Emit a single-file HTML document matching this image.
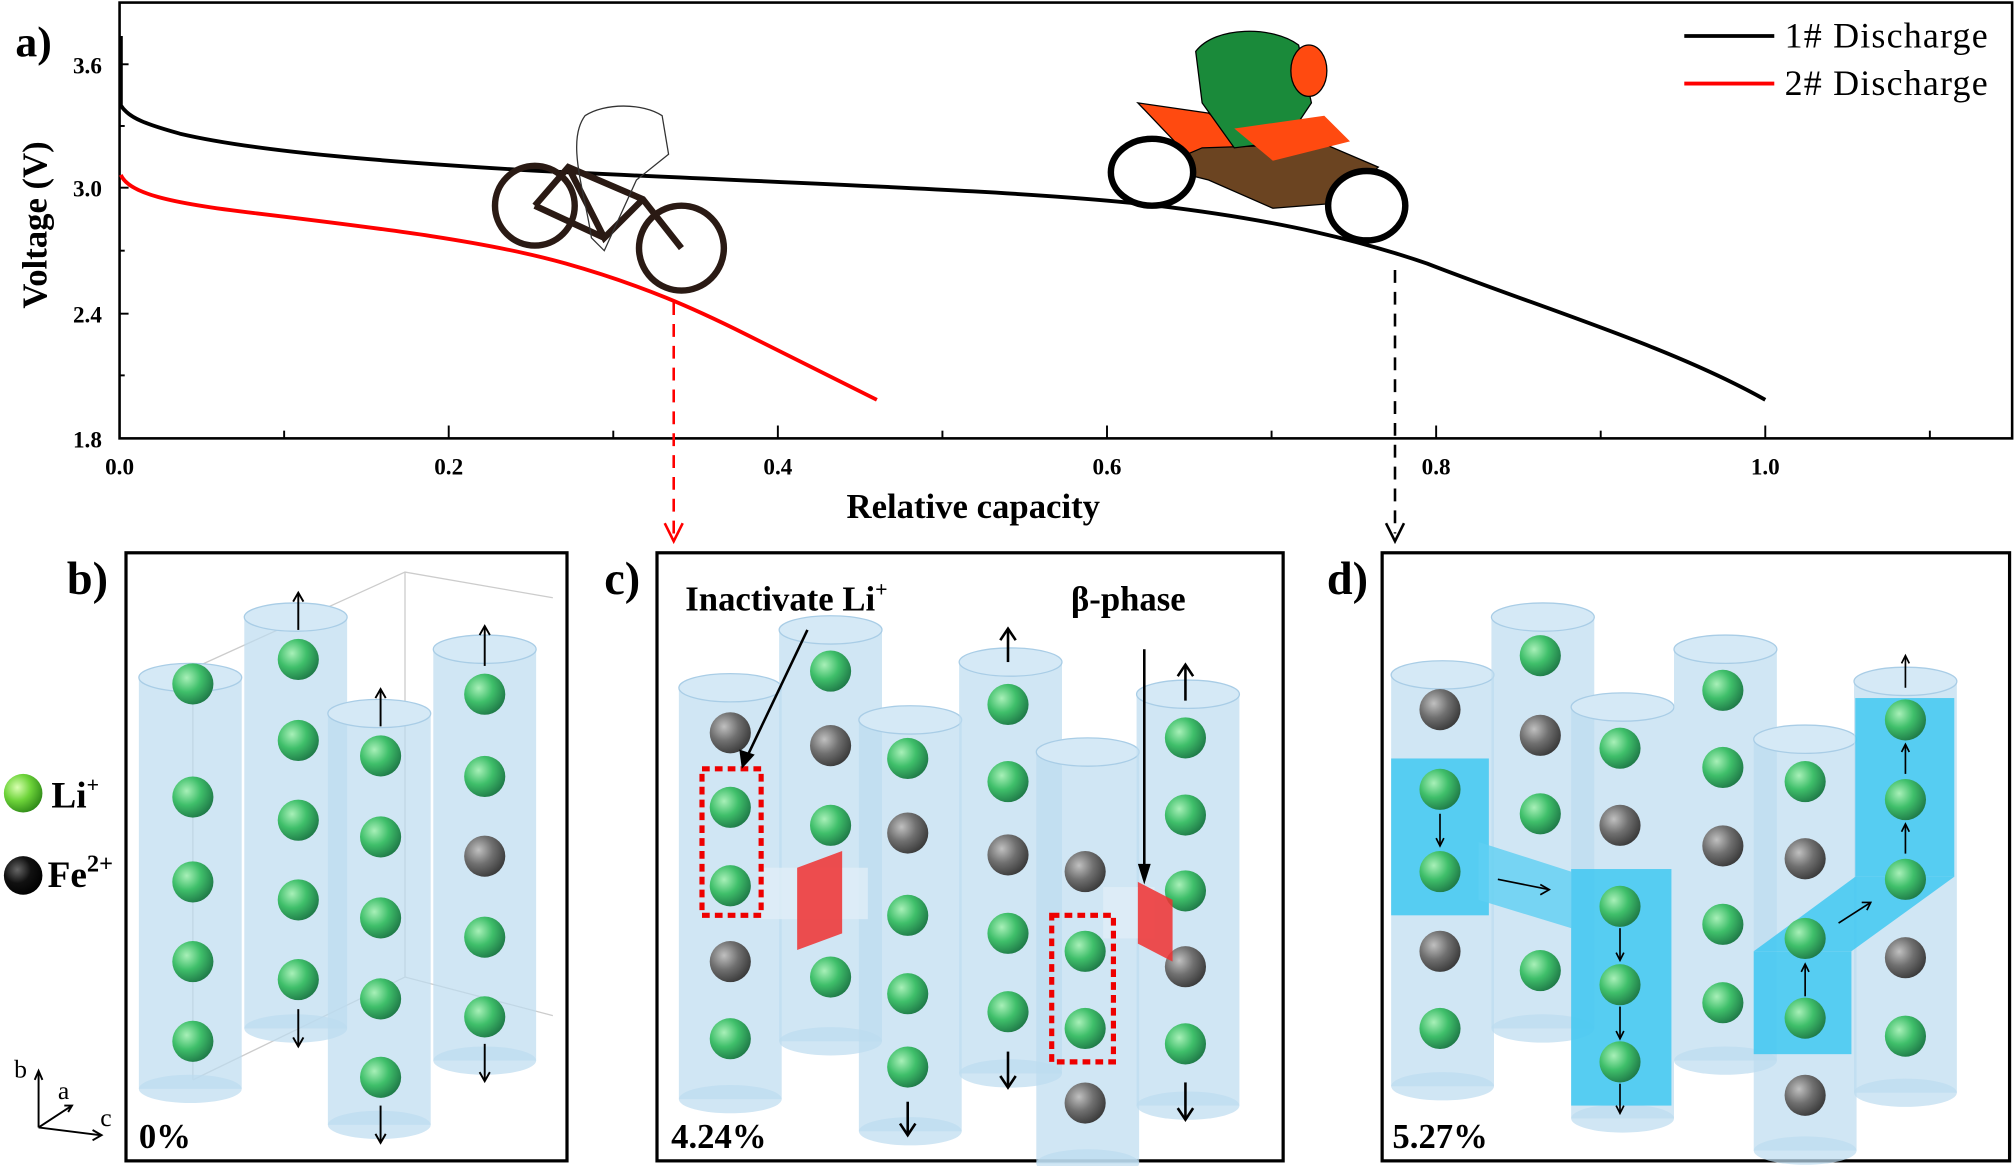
<!DOCTYPE html>
<html><head><meta charset="utf-8"><style>
html,body{margin:0;padding:0;background:#fff;}
svg{display:block}
text{font-family:"Liberation Serif",serif;font-weight:bold;}
</style></head><body>
<svg width="2016" height="1166" viewBox="0 0 1568 907" preserveAspectRatio="none" xmlns="http://www.w3.org/2000/svg">
<defs>
<radialGradient id="gG" cx="0.35" cy="0.35" r="0.7"><stop offset="0" stop-color="#a8f0b8"/><stop offset="0.5" stop-color="#3fbf6a"/><stop offset="1" stop-color="#1f7a48"/></radialGradient>
<radialGradient id="gL" cx="0.35" cy="0.35" r="0.7"><stop offset="0" stop-color="#d8ffb0"/><stop offset="0.5" stop-color="#6ed43a"/><stop offset="1" stop-color="#2f8a18"/></radialGradient>
<radialGradient id="gY" cx="0.35" cy="0.35" r="0.7"><stop offset="0" stop-color="#c0c0c0"/><stop offset="0.5" stop-color="#707070"/><stop offset="1" stop-color="#3a3a3a"/></radialGradient>
<radialGradient id="gK" cx="0.35" cy="0.35" r="0.7"><stop offset="0" stop-color="#666"/><stop offset="0.5" stop-color="#111"/><stop offset="1" stop-color="#000"/></radialGradient>
<g id="bg"><circle r="16" fill="url(#gG)"/></g>
<g id="by"><circle r="16" fill="url(#gY)"/></g>
<g id="cyl"><rect x="0" y="0" width="80" height="320" fill="#bcdcf0" fill-opacity="0.7"/><ellipse cx="40" cy="0" rx="40" ry="11" fill="#d5e9f6" stroke="#a9cde6"/><ellipse cx="40" cy="320" rx="40" ry="11" fill="#bcdcf0" fill-opacity="0.7"/></g>
</defs>

<!-- Panel a -->
<rect x="93" y="2" width="1472" height="339" fill="none" stroke="#000" stroke-width="2"/>
<g stroke="#000" stroke-width="1.5">
<line x1="93" y1="50" x2="100" y2="50"/><line x1="93" y1="98" x2="97" y2="98"/><line x1="93" y1="146" x2="100" y2="146"/><line x1="93" y1="195" x2="97" y2="195"/><line x1="93" y1="244" x2="100" y2="244"/><line x1="93" y1="292" x2="97" y2="292"/>
<line x1="221" y1="341" x2="221" y2="335"/><line x1="349" y1="341" x2="349" y2="331"/><line x1="477" y1="341" x2="477" y2="335"/><line x1="605" y1="341" x2="605" y2="331"/><line x1="733" y1="341" x2="733" y2="335"/><line x1="861" y1="341" x2="861" y2="331"/><line x1="989" y1="341" x2="989" y2="335"/><line x1="1117" y1="341" x2="1117" y2="331"/><line x1="1245" y1="341" x2="1245" y2="335"/><line x1="1373" y1="341" x2="1373" y2="331"/><line x1="1501" y1="341" x2="1501" y2="335"/>
</g>
<g font-size="18" text-anchor="middle" style="font-family:'Liberation Sans',sans-serif">
<text x="93" y="369">0.0</text><text x="349" y="369">0.2</text><text x="605" y="369">0.4</text><text x="861" y="369">0.6</text><text x="1117" y="369">0.8</text><text x="1373" y="369">1.0</text>
<text x="68" y="57">3.6</text><text x="68" y="153">3.0</text><text x="68" y="251">2.4</text><text x="68" y="348">1.8</text>
</g>
<text x="757" y="403" font-size="27" text-anchor="middle">Relative capacity</text>
<text x="0" y="0" font-size="27" text-anchor="middle" transform="translate(36,175) rotate(-90)">Voltage (V)</text>
<text x="12" y="44" font-size="34">a)</text>
<path d="M94,28 L94,82 C100,92 115,97 140,104 C200,118 300,126 420,133 C600,142 800,148 900,160 C1000,172 1060,188 1110,205 C1200,240 1300,270 1373,311" fill="none" stroke="#000" stroke-width="3"/>
<path d="M94,136 C100,150 130,158 200,166 C300,178 380,188 440,205 C500,222 540,240 580,260 C620,280 660,300 682,311" fill="none" stroke="#f00" stroke-width="3"/>
<line x1="1310" y1="28" x2="1380" y2="28" stroke="#000" stroke-width="3"/><text x="1388" y="37" font-size="28" style="font-weight:normal" textLength="158">1# Discharge</text>
<line x1="1310" y1="65" x2="1380" y2="65" stroke="#f00" stroke-width="3"/><text x="1388" y="74" font-size="28" style="font-weight:normal" textLength="158">2# Discharge</text>
<line x1="524" y1="235" x2="524" y2="415" stroke="#f00" stroke-width="2" stroke-dasharray="10,7"/>
<path d="M517,407 L524,421 L531,407" fill="none" stroke="#f00" stroke-width="2"/>
<line x1="1085" y1="210" x2="1085" y2="415" stroke="#000" stroke-width="2" stroke-dasharray="10,7"/>
<path d="M1078,407 L1085,421 L1092,407" fill="none" stroke="#000" stroke-width="2"/>
<!-- bicycle -->
<g fill="none" stroke="#2a1a14" stroke-width="5">
<circle cx="416" cy="160" r="31"/><circle cx="530" cy="193" r="33"/>
<path d="M416,160 L442,130 L500,155 L530,193 M442,130 L470,185 L500,155 M470,185 L416,160"/>
</g>
<path d="M460,185 C455,150 440,110 455,90 C470,80 500,80 515,90 L520,120 L495,140 L470,195 Z" fill="none" stroke="#333" stroke-width="1"/>
<!-- motorbike -->
<path d="M885,80 L940,88 L975,115 L925,122 Z" fill="#ff4a10" stroke="#000"/>
<path d="M900,130 L935,115 L1030,112 L1072,130 L1040,158 L990,162 L940,140 Z" fill="#6b4421" stroke="#000"/>
<path d="M930,40 C945,20 990,20 1010,35 L1020,80 L1000,110 L960,115 L935,80 Z" fill="#1a8a3a" stroke="#000"/>
<ellipse cx="1018" cy="55" rx="14" ry="20" fill="#ff4a10" stroke="#000"/>
<path d="M960,100 L1030,90 L1050,110 L990,125 Z" fill="#ff4a10"/>
<ellipse cx="896" cy="134" rx="32" ry="26" fill="#fff" stroke="#000" stroke-width="5"/>
<ellipse cx="1063" cy="160" rx="30" ry="27" fill="#fff" stroke="#000" stroke-width="5"/>

<!-- legend -->
<circle cx="18" cy="617" r="15" fill="url(#gL)"/><text x="40" y="628" font-size="29">Li<tspan font-size="17" dy="-12">+</tspan></text>
<circle cx="18" cy="681" r="15" fill="url(#gK)"/><text x="37" y="690" font-size="29">Fe<tspan font-size="19" dy="-12">2+</tspan></text>
<g stroke="#000" stroke-width="1.5" fill="none">
<line x1="30" y1="877" x2="30" y2="835"/><path d="M27,840 L30,833 L33,840"/>
<line x1="30" y1="877" x2="56" y2="860"/><path d="M50,860 L56,860 L53,865"/>
<line x1="30" y1="877" x2="78" y2="883"/><path d="M72,879 L79,883 L72,887"/>
</g>
<text x="11" y="838" font-size="20" style="font-weight:normal">b</text><text x="45" y="855" font-size="20" style="font-weight:normal">a</text><text x="78" y="876" font-size="20" style="font-weight:normal">c</text>

<!-- Panel boxes -->
<rect x="98" y="430" width="343" height="473" fill="none" stroke="#000" stroke-width="2.5"/>
<rect x="511" y="430" width="487" height="473" fill="none" stroke="#000" stroke-width="2.5"/>
<rect x="1075" y="430" width="488" height="473" fill="none" stroke="#000" stroke-width="2.5"/>
<text x="52" y="462" font-size="36">b)</text><text x="470" y="462" font-size="36">c)</text><text x="1032" y="462" font-size="36">d)</text>

<!-- Panel b -->
<g stroke="#ccc" stroke-width="1" fill="none"><path d="M150,520 L315,445 L430,465 M150,520 L150,840 M315,445 L315,760 M150,840 L315,760 L430,790"/></g>
<use href="#cyl" x="108" y="527"/><use href="#cyl" x="190" y="480"/><use href="#cyl" x="255" y="555"/><use href="#cyl" x="337" y="505"/>
<use href="#bg" x="150" y="532"/><use href="#bg" x="150" y="620"/><use href="#bg" x="150" y="686"/><use href="#bg" x="150" y="748"/><use href="#bg" x="150" y="810"/>
<use href="#bg" x="232" y="513"/><use href="#bg" x="232" y="576"/><use href="#bg" x="232" y="638"/><use href="#bg" x="232" y="700"/><use href="#bg" x="232" y="762"/>
<use href="#bg" x="296" y="588"/><use href="#bg" x="296" y="651"/><use href="#bg" x="296" y="714"/><use href="#bg" x="296" y="777"/><use href="#bg" x="296" y="838"/>
<use href="#bg" x="377" y="540"/><use href="#bg" x="377" y="604"/><use href="#by" x="377" y="666"/><use href="#bg" x="377" y="729"/><use href="#bg" x="377" y="791"/>
<g stroke="#000" stroke-width="1.5" fill="none">
<line x1="232" y1="490" x2="232" y2="462"/><path d="M228,468 L232,461 L236,468"/>
<line x1="232" y1="785" x2="232" y2="813"/><path d="M228,807 L232,814 L236,807"/>
<line x1="296" y1="565" x2="296" y2="537"/><path d="M292,543 L296,536 L300,543"/>
<line x1="296" y1="860" x2="296" y2="888"/><path d="M292,882 L296,889 L300,882"/>
<line x1="377" y1="518" x2="377" y2="488"/><path d="M373,494 L377,487 L381,494"/>
<line x1="377" y1="812" x2="377" y2="840"/><path d="M373,834 L377,841 L381,834"/>
</g>
<text x="108" y="893" font-size="27">0%</text>

<!-- Panel c -->
<use href="#cyl" x="528" y="535"/><use href="#cyl" x="606" y="490"/><use href="#cyl" x="668" y="560"/><use href="#cyl" x="746" y="515"/><use href="#cyl" x="806" y="585"/><use href="#cyl" x="884" y="540"/>
<use href="#by" x="568" y="570"/><use href="#bg" x="568" y="628"/><use href="#bg" x="568" y="689"/><use href="#by" x="568" y="748"/><use href="#bg" x="568" y="808"/>
<use href="#bg" x="646" y="522"/><use href="#by" x="646" y="580"/><use href="#bg" x="646" y="642"/><use href="#bg" x="646" y="760"/>
<use href="#bg" x="706" y="590"/><use href="#by" x="706" y="648"/><use href="#bg" x="706" y="712"/><use href="#bg" x="706" y="773"/><use href="#bg" x="706" y="830"/>
<use href="#bg" x="784" y="548"/><use href="#bg" x="784" y="608"/><use href="#by" x="784" y="665"/><use href="#bg" x="784" y="726"/><use href="#bg" x="784" y="787"/>
<use href="#bg" x="844" y="740"/><use href="#by" x="844" y="678"/><use href="#bg" x="844" y="800"/><use href="#by" x="844" y="858"/>
<use href="#bg" x="922" y="574"/><use href="#bg" x="922" y="634"/><use href="#bg" x="922" y="693"/><use href="#by" x="922" y="752"/><use href="#bg" x="922" y="812"/>
<rect x="590" y="675" width="85" height="40" fill="#e0edf7" fill-opacity="0.8"/>
<path d="M620,675 L655,662 L655,726 L620,739 Z" fill="#f03030" fill-opacity="0.85"/>
<rect x="858" y="690" width="40" height="40" fill="#e0edf7" fill-opacity="0.8"/>
<path d="M885,686 L912,700 L912,748 L885,734 Z" fill="#f03030" fill-opacity="0.85"/>
<rect x="546" y="598" width="46" height="114" fill="none" stroke="#e00" stroke-width="4" stroke-dasharray="6,4"/>
<rect x="818" y="712" width="48" height="114" fill="none" stroke="#e00" stroke-width="4" stroke-dasharray="6,4"/>
<line x1="628" y1="490" x2="578" y2="595" stroke="#000" stroke-width="2"/><path d="M575,583 L577,598 L587,587 Z" fill="#000"/>
<line x1="890" y1="505" x2="890" y2="683" stroke="#000" stroke-width="2"/><path d="M885,672 L890,688 L895,672 Z" fill="#000"/>
<g stroke="#000" stroke-width="2" fill="none">
<line x1="784" y1="515" x2="784" y2="490"/><path d="M778,498 L784,489 L790,498"/>
<line x1="784" y1="818" x2="784" y2="845"/><path d="M778,837 L784,846 L790,837"/>
<line x1="922" y1="545" x2="922" y2="518"/><path d="M916,526 L922,517 L928,526"/>
<line x1="922" y1="842" x2="922" y2="870"/><path d="M916,862 L922,871 L928,862"/>
<line x1="706" y1="857" x2="706" y2="882"/><path d="M700,874 L706,883 L712,874"/>
</g>
<text x="533" y="475" font-size="27">Inactivate  Li<tspan font-size="17" dy="-11">+</tspan></text>
<text x="833" y="475" font-size="27">β-phase</text>
<text x="522" y="893" font-size="27">4.24%</text>

<!-- Panel d -->
<use href="#cyl" x="1082" y="525"/><use href="#cyl" x="1160" y="480"/><use href="#cyl" x="1222" y="550"/><use href="#cyl" x="1302" y="505"/><use href="#cyl" x="1364" y="575"/><use href="#cyl" x="1442" y="530"/>
<rect x="1082" y="590" width="76" height="122" fill="#2ec4f2" fill-opacity="0.75"/>
<path d="M1150,655 L1222,678 L1222,722 L1150,700 Z" fill="#5fd0f2" fill-opacity="0.8"/>
<rect x="1222" y="676" width="78" height="184" fill="#2ec4f2" fill-opacity="0.75"/>
<rect x="1364" y="740" width="76" height="80" fill="#2ec4f2" fill-opacity="0.75"/>
<path d="M1364,740 L1443,682 L1520,682 L1440,740 Z" fill="#2ec4f2" fill-opacity="0.75"/>
<rect x="1443" y="543" width="77" height="139" fill="#2ec4f2" fill-opacity="0.75"/>
<use href="#by" x="1120" y="552"/><use href="#bg" x="1120" y="614"/><use href="#bg" x="1120" y="678"/><use href="#by" x="1120" y="740"/><use href="#bg" x="1120" y="800"/>
<use href="#bg" x="1198" y="510"/><use href="#by" x="1198" y="572"/><use href="#bg" x="1198" y="633"/><use href="#bg" x="1198" y="755"/>
<use href="#bg" x="1260" y="582"/><use href="#by" x="1260" y="642"/><use href="#bg" x="1260" y="705"/><use href="#bg" x="1260" y="766"/><use href="#bg" x="1260" y="826"/>
<use href="#bg" x="1340" y="537"/><use href="#bg" x="1340" y="597"/><use href="#by" x="1340" y="658"/><use href="#bg" x="1340" y="719"/><use href="#bg" x="1340" y="780"/>
<use href="#bg" x="1404" y="608"/><use href="#by" x="1404" y="668"/><use href="#bg" x="1404" y="730"/><use href="#bg" x="1404" y="792"/><use href="#by" x="1404" y="852"/>
<use href="#bg" x="1482" y="560"/><use href="#bg" x="1482" y="622"/><use href="#bg" x="1482" y="684"/><use href="#by" x="1482" y="745"/><use href="#bg" x="1482" y="806"/>
<g stroke="#000" stroke-width="1.3" fill="none">
<line x1="1120" y1="633" x2="1120" y2="658"/><path d="M1117,652 L1120,658 L1123,652"/>
<line x1="1165" y1="684" x2="1205" y2="692"/><path d="M1198,688 L1205,692 L1198,696"/>
<line x1="1260" y1="722" x2="1260" y2="747"/><path d="M1257,741 L1260,747 L1263,741"/>
<line x1="1260" y1="783" x2="1260" y2="808"/><path d="M1257,802 L1260,808 L1263,802"/>
<line x1="1260" y1="843" x2="1260" y2="866"/><path d="M1257,860 L1260,866 L1263,860"/>
<line x1="1404" y1="775" x2="1404" y2="750"/><path d="M1401,756 L1404,750 L1407,756"/>
<line x1="1430" y1="718" x2="1455" y2="702"/><path d="M1448,702 L1455,702 L1452,708"/>
<line x1="1482" y1="664" x2="1482" y2="641"/><path d="M1479,647 L1482,641 L1485,647"/>
<line x1="1482" y1="602" x2="1482" y2="579"/><path d="M1479,585 L1482,579 L1485,585"/>
<line x1="1482" y1="535" x2="1482" y2="510"/><path d="M1479,516 L1482,510 L1485,516"/>
</g>
<text x="1083" y="893" font-size="27">5.27%</text>
</svg>
</body></html>
